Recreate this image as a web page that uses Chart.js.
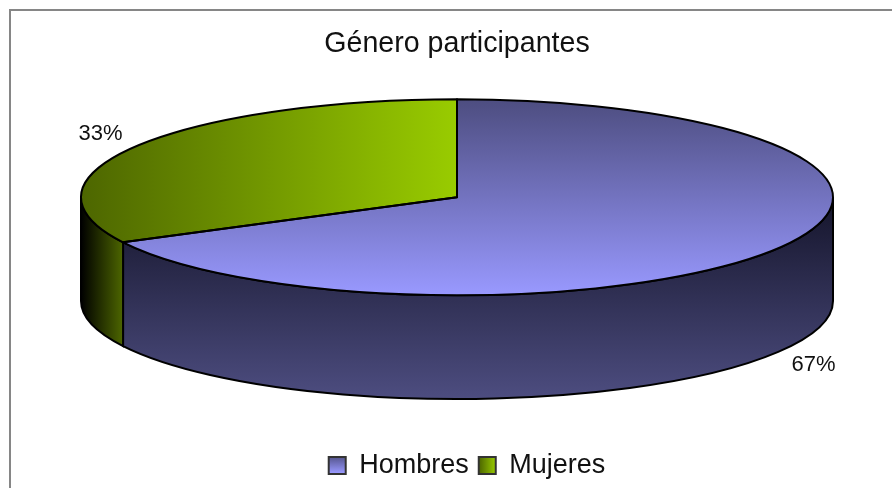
<!DOCTYPE html>
<html>
<head>
<meta charset="utf-8">
<title>Género participantes</title>
<script src="https://cdn.jsdelivr.net/npm/chart.js@4/dist/chart.umd.js"></script>
<style>
  html, body { margin: 0; padding: 0; background: #fff; overflow: hidden; }
  canvas { display: block; }
</style>
</head>
<body>
<canvas id="chart" width="892" height="488"></canvas>
<script>
// Data
const categories = ['Hombres', 'Mujeres'];
const shares = [67.4, 32.6];

// Colours: [dark, light] ends of each gradient
const topColors = [['#4d4d80', '#9999ff'], ['#4d6600', '#99cc00']];
const wallColors = [['#14142a', '#4d4d80'], ['#000000', '#4d6600']];

// Height of the tilted pie top relative to its width
const TILT = 0.2606;
const FONT = '"Liberation Sans", Arial, sans-serif';

function pieGeometry(chart) {
    const area = chart.chartArea;
    const rx = area.width / 2;
    const ry = rx * TILT;
    return {
        cx: (area.left + area.right) / 2,
        cy: area.top + ry,
        rx: rx,
        ry: ry,
        depth: area.height - 2 * ry
    };
}

// Gradient for the slice tops, in the coordinates of the untilted arc
function sliceFill(context) {
    const chart = context.chart;
    const i = context.dataIndex;
    const area = chart.chartArea;
    if (!area) return topColors[i][1];
    const x = (area.left + area.right) / 2;
    const y = (area.top + area.bottom) / 2;
    const r = area.height / 2;
    const g = i === 0
        ? chart.ctx.createLinearGradient(0, y - r, 0, y + r)
        : chart.ctx.createLinearGradient(x - r, 0, x, 0);
    g.addColorStop(0, topColors[i][0]);
    g.addColorStop(1, topColors[i][1]);
    return g;
}

// Frame and white page
const framePlugin = {
    id: 'frame',
    beforeDraw(chart) {
        const ctx = chart.ctx;
        ctx.save();
        ctx.fillStyle = '#fff';
        ctx.fillRect(0, 0, chart.width, chart.height);
        ctx.strokeStyle = '#868686';
        ctx.lineWidth = 2;
        ctx.beginPath();
        ctx.moveTo(10, chart.height);
        ctx.lineTo(10, 10);
        ctx.lineTo(chart.width, 10);
        ctx.stroke();
        ctx.restore();
    }
};

// Tilts the Chart.js arcs and adds the side wall, outlines and percent labels
const tiltPlugin = {
    id: 'tilt',
    afterLayout(chart) {
        // legend sits lower and further right than the default placement
        chart.legend.left += 10;
        chart.legend.right += 10;
        chart.legend.top += 43;
        chart.legend.bottom += 43;
    },
    beforeDatasetDraw(chart) {
        const ctx = chart.ctx;
        const p = pieGeometry(chart);
        const arcs = chart.getDatasetMeta(0).data;

        // side wall, only the front half of the rim shows
        arcs.forEach((arc, i) => {
            const from = Math.max(arc.startAngle, 0);
            const to = Math.min(arc.endAngle, Math.PI);
            if (from >= to) return;
            const x0 = p.cx + p.rx * Math.cos(to);
            const x1 = p.cx + p.rx * Math.cos(from);
            const g = i === 0
                ? ctx.createLinearGradient(0, p.cy, 0, p.cy + p.ry + p.depth)
                : ctx.createLinearGradient(x0, 0, x1, 0);
            g.addColorStop(0, wallColors[i][0]);
            g.addColorStop(1, wallColors[i][1]);
            ctx.beginPath();
            ctx.ellipse(p.cx, p.cy, p.rx, p.ry, 0, from, to);
            ctx.ellipse(p.cx, p.cy + p.depth, p.rx, p.ry, 0, to, from, true);
            ctx.closePath();
            ctx.fillStyle = g;
            ctx.fill();
            ctx.strokeStyle = '#000';
            ctx.lineWidth = 2;
            ctx.stroke();
        });

        const arc = arcs[0];
        const r = arc.outerRadius;
        ctx.save();
        ctx.translate(p.cx, p.cy);
        ctx.scale(p.rx / r, p.ry / r);
        ctx.translate(-arc.x, -arc.y);
    },
    afterDatasetDraw(chart) {
        const ctx = chart.ctx;
        ctx.restore();

        const p = pieGeometry(chart);
        const arcs = chart.getDatasetMeta(0).data;
        ctx.save();
        ctx.strokeStyle = '#000';
        ctx.lineWidth = 2;
        ctx.lineJoin = 'round';
        arcs.forEach(arc => {
            ctx.beginPath();
            ctx.moveTo(p.cx, p.cy);
            ctx.ellipse(p.cx, p.cy, p.rx, p.ry, 0, arc.startAngle, arc.endAngle);
            ctx.closePath();
            ctx.stroke();
        });

        // percent labels outside the rim
        ctx.fillStyle = '#111';
        ctx.font = '22px ' + FONT;
        ctx.textAlign = 'center';
        ctx.textBaseline = 'middle';
        const total = shares.reduce((a, b) => a + b, 0);
        arcs.forEach((arc, i) => {
            const mid = (arc.startAngle + arc.endAngle) / 2;
            const sin = Math.sin(mid);
            const x = p.cx + p.rx * 1.11 * Math.cos(mid);
            const y = p.cy + p.ry * 1.25 * sin + (sin > 0 ? p.depth : 0);
            ctx.fillText(Math.round(shares[i] / total * 100) + '%', x, y);
        });
        ctx.restore();
    }
};

const ctx = document.getElementById('chart').getContext('2d');

function legendFill(i) {
    const g = i === 0
        ? ctx.createLinearGradient(0, 455, 0, 473)
        : ctx.createLinearGradient(479, 0, 496, 0);
    g.addColorStop(0, topColors[i][0]);
    g.addColorStop(1, topColors[i][1]);
    return g;
}

new Chart(ctx, {
    type: 'pie',
    data: {
        labels: categories,
        datasets: [{
            data: shares,
            backgroundColor: sliceFill,
            borderWidth: 0
        }]
    },
    options: {
        responsive: false,
        animation: false,
        layout: {
            padding: { left: 81, right: 59, top: 0, bottom: 42 }
        },
        plugins: {
            title: {
                display: true,
                text: 'Género participantes',
                color: '#111',
                font: { family: FONT, size: 28.6, weight: 'normal' },
                padding: { top: 27, bottom: 38 }
            },
            legend: {
                position: 'bottom',
                onClick: null,
                labels: {
                    boxWidth: 17,
                    boxHeight: 17,
                    padding: 10,
                    color: '#111',
                    font: { family: FONT, size: 27 },
                    generateLabels: () => categories.map((text, i) => ({
                        text: text,
                        fontColor: '#111',
                        fillStyle: legendFill(i),
                        strokeStyle: '#333',
                        lineWidth: 2,
                        index: i
                    }))
                }
            },
            tooltip: { enabled: false }
        }
    },
    plugins: [framePlugin, tiltPlugin]
});
</script>
</body>
</html>
